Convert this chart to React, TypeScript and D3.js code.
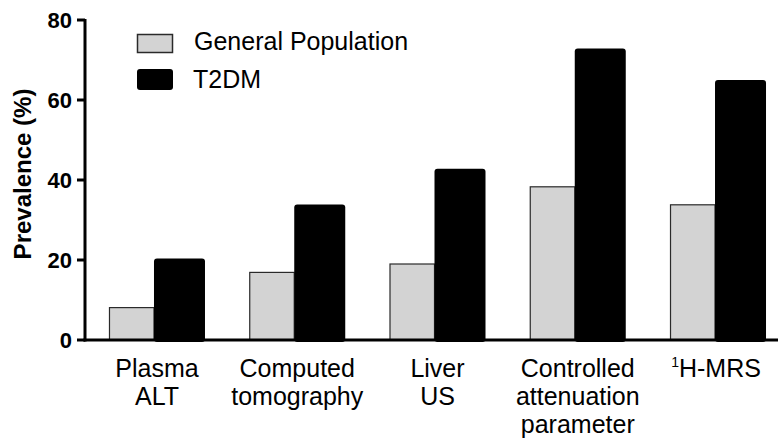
import React from "react";
import * as d3 from "d3";

const categories: string[][] = [
  ["Plasma", "ALT"],
  ["Computed", "tomography"],
  ["Liver", "US"],
  ["Controlled", "attenuation", "parameter"],
  ["¹H-MRS"],
];
const categoryKeys = ["Plasma ALT", "Computed tomography", "Liver US", "Controlled attenuation parameter", "1H-MRS"];
const seriesNames = ["General Population", "T2DM"];
const generalPopulation = [8.1, 16.9, 19.0, 38.3, 33.8];
const t2dm = [20.4, 33.9, 42.8, 72.9, 65.0];
const yTicks = [0, 20, 40, 60, 80];

const W = 778;
const H = 439;
const FONT = "'Liberation Sans', Arial, Helvetica, sans-serif";

export default function App() {
  const x0 = d3
    .scaleBand<string>()
    .domain(categoryKeys)
    .range([85, 790])
    .paddingInner(0.3155)
    .paddingOuter(0.171);
  const x1 = d3.scaleBand<string>().domain(seriesNames).range([0, x0.bandwidth()]);
  const y = d3.scaleLinear().domain([0, 80]).range([340, 20]);
  const shift = 3;

  return (
    <svg
      width={W}
      height={H}
      style={{ position: "absolute", left: 0, top: 0, background: "#fff" }}
      fontFamily={FONT}
    >
      <rect x={0} y={0} width={W} height={H} fill="#fff" />
      {/* bars */}
      {categoryKeys.map((k, i) => {
        const gx = x0(k)!;
        const gw = x1.bandwidth();
        const g = generalPopulation[i];
        const t = t2dm[i];
        return (
          <g key={k}>
            <rect
              x={gx + x1(seriesNames[0])! + 0.5}
              y={y(g)}
              width={gw - shift - 0.5}
              height={y(0) - y(g)}
              fill="#d3d3d3"
              stroke="#2a2a2a"
              strokeWidth={1.2}
            />
            <rect
              x={gx + x1(seriesNames[1])! - shift}
              y={y(t)}
              width={gw + shift}
              height={y(0) - y(t) + 2}
              fill="#000"
              rx={3}
            />
          </g>
        );
      })}
      {/* y axis */}
      <line x1={85} x2={85} y1={y(80) - 1} y2={y(0) + 1.5} stroke="#000" strokeWidth={3} />
      {yTicks.map((v) => (
        <g key={v}>
          <line x1={77} x2={85} y1={y(v)} y2={y(v)} stroke="#000" strokeWidth={3} />
          <text
            x={72}
            y={y(v)}
            dy="0.36em"
            textAnchor="end"
            fontSize={22}
            fontWeight="bold"
            fill="#000"
          >
            {v}
          </text>
        </g>
      ))}
      {/* x axis */}
      <line x1={83.5} x2={W} y1={y(0)} y2={y(0)} stroke="#000" strokeWidth={3} />
      {categories.map((lines, i) => {
        const cx = x0(categoryKeys[i])! + x0.bandwidth() / 2;
        return (
          <text key={i} textAnchor="middle" fontSize={25} fill="#000">
            {lines.map((ln, j) =>
              ln.startsWith("¹") ? (
                <tspan key={j} x={cx - 2} y={377}>
                  <tspan fontSize={14} dy={-10}>1</tspan>
                  <tspan dy={10}>{ln.slice(1)}</tspan>
                </tspan>
              ) : (
                <tspan key={j} x={cx} y={377 + j * 28}>
                  {ln}
                </tspan>
              )
            )}
          </text>
        );
      })}
      {/* y title */}
      <text
        transform={`translate(31,${(y(0) + y(80)) / 2 - 6}) rotate(-90)`}
        textAnchor="middle"
        fontSize={24}
        fontWeight="bold"
        fill="#000"
      >
        Prevalence (%)
      </text>
      {/* legend */}
      <rect x={137.5} y={34.5} width={35} height={18} fill="#d3d3d3" stroke="#2a2a2a" strokeWidth={1.5} />
      <rect x={137} y={69} width={36} height={21} fill="#000" rx={3} />
      <text x={194} y={50} fontSize={25} fill="#000">
        {seriesNames[0]}
      </text>
      <text x={193} y={88} fontSize={25} fill="#000">
        {seriesNames[1]}
      </text>
    </svg>
  );
}
